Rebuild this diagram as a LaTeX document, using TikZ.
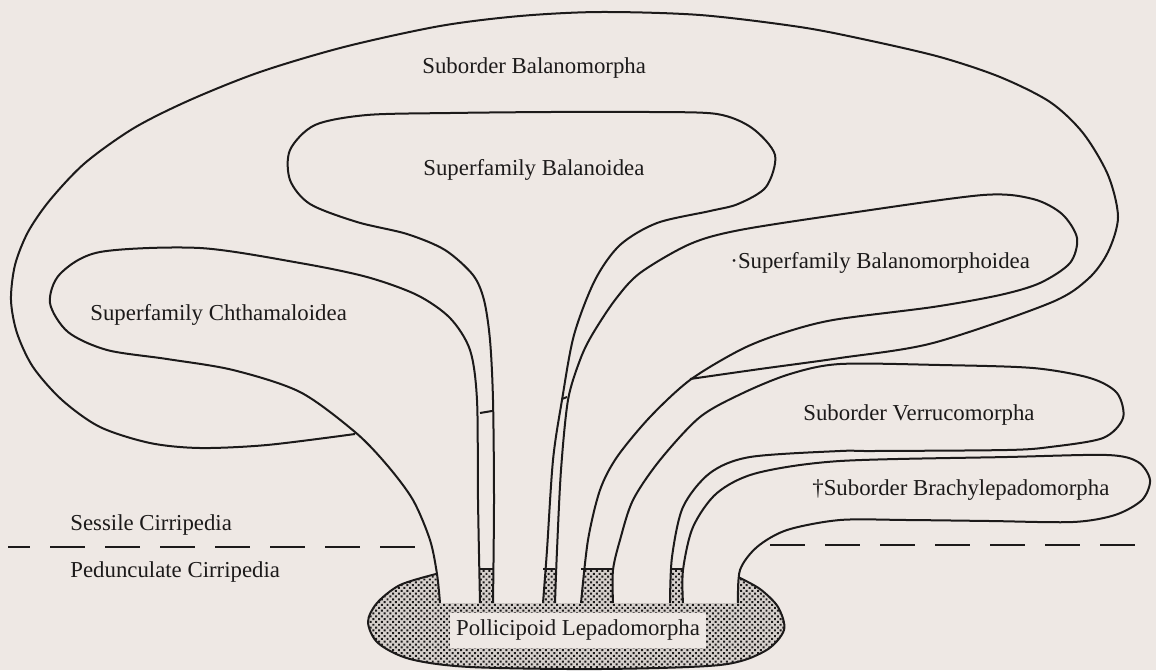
\documentclass[tikz,border=0pt]{standalone}
\usepackage{fontspec}
\setmainfont{Liberation Serif}
\usetikzlibrary{patterns.meta}
\definecolor{paper}{RGB}{238,232,228}
\definecolor{ink}{RGB}{28,26,26}
\definecolor{basegray}{RGB}{214,208,204}
\tikzset{
  wall/.style={line width=1pt, draw=ink, line join=round},
  balloon/.style={wall, fill=paper},
  taxon/.style={anchor=west, inner sep=0pt, text=ink, font=\fontsize{11.4}{13}\selectfont},
  divider/.style={line width=1.3pt, draw=ink, dash pattern=on 17.5pt off 10pt},
}
\begin{document}
\begin{tikzpicture}[x=0.5pt, y=-0.5pt]
			%%%%% START %%%%%
			
			\fill[paper] (0,0) rectangle (1156,670);
			\useasboundingbox (0,0) rectangle (1156,670);
			
			% stippled base
			\path[fill=basegray, postaction={pattern={Dots[radius=0.7pt,distance=2pt,angle=45]}, pattern color=ink}]
				plot[smooth] coordinates {(436,574) (400,585) (377,603) (368,622) (378,643) (410,659) (470,667) (600,669) (720,665) (765,651) (784,630) (778,607) (760,589) (738,577)}
				-- (738,569) -- (436,569) -- cycle;
			\draw[wall] plot[smooth] coordinates {(436,574) (400,585) (377,603) (368,622) (378,643) (410,659) (470,667) (600,669) (720,665) (765,651) (784,630) (778,607) (760,589) (738,577)};
			
			% Chthamaloidea
			\draw[balloon] plot[smooth] coordinates {(440,603) (437,574) (430,540) (413,500) (387,465) (355,432) (300,392) (233,370) (167,359) (107,350) (68,332) (50,303) (60,274) (100,252) (200,248) (300,263) (367,277) (417,295) (450,318) (470,350) (477,400) (478,500) (480,603)};
			
			% Balanoidea
			\draw[balloon] plot[smooth] coordinates {(493,603) (494,500) (493,400) (490,340) (484,300) (473,275) (445,250) (407,234) (357,222) (310,204) (290,180) (290,150) (315,125) (367,115) (450,113) (550,112) (650,112) (717,114) (752,128) (775,155) (766,187) (738,204) (710,211) (657,223) (620,245) (595,280) (574,335) (562,400) (553,460) (547,550) (543,603)};
			
			% Balanomorphoidea
			\draw[balloon] plot[smooth] coordinates {(555,603) (557,550) (561,470) (568,400) (580,360) (592,335) (615,300) (640,273) (690,244) (740,230) (850,213) (983,195) (1033,199) (1062,214) (1077,238) (1070,263) (1040,283) (1000,295) (933,307) (833,320) (780,334) (740,350) (690,380) (650,417) (617,457) (600,490) (588,540) (581,603)};
			
			% Verrucomorpha
			\draw[balloon] plot[smooth] coordinates {(613,603) (613,570) (620,540) (633,500) (660,460) (700,417) (743,393) (790,374) (840,364) (940,365) (1033,368) (1090,378) (1117,393) (1123,418) (1103,438) (1050,447) (1007,450) (873,451) (840,451) (750,457) (710,473) (683,507) (672,557) (670,603)};
			
			% Brachylepadomorpha
			\draw[balloon] plot[smooth] coordinates {(683,603) (683,570) (693,527) (717,493) (757,473) (840,461) (1007,457) (1107,455) (1138,462) (1150,480) (1142,500) (1115,515) (1073,522) (990,521) (907,520) (840,520) (787,530) (757,547) (740,570) (738,603)};
			
			% Balanomorpha
			\draw[wall] plot[smooth] coordinates {(355,434) (267,445) (200,448) (150,443) (100,427) (62,400) (33,367) (17,333) (11,300) (15,265) (28,232) (50,200) (85,163) (134,128) (190,100) (260,72) (344,47) (440,26) (520,16) (600,12) (700,15) (800,27) (867,40) (940,57) (1000,77) (1050,102) (1083,133) (1108,175) (1118,217) (1108,252) (1088,279) (1050,303) (933,343) (840,358) (760,369) (690,379)};
			
			% caps and ticks
			\draw[wall] (480,569) -- (493,569);
			\draw[wall] (543,569) -- (555,569);
			\draw[wall] (581,569) -- (613,569);
			\draw[wall] (670,569) -- (683,569);
			\draw[wall] (480,413) -- (492,411);
			\draw[wall] (562,399) -- (567,397);
			
			\draw[divider, dash phase=6.5pt] (8,547) -- (417,547);
			\draw[divider] (770,545) -- (1138,545);
			
			\node[taxon] (balanomorpha) at (422,68) {Suborder Balanomorpha};
			\node[taxon] (balanoidea) at (423,170) {Superfamily Balanoidea};
			\node[taxon] (chthamaloidea) at (90,315) {Superfamily Chthamaloidea};
			\node[taxon] (balanomorphoidea) at (730,263) {·Superfamily Balanomorphoidea};
			\node[taxon] (verrucomorpha) at (803,415) {Suborder Verrucomorpha};
			\node[taxon] (brachylepadomorpha) at (812,490) {†Suborder Brachylepadomorpha};
			\node[taxon] (sessile) at (70,525) {Sessile Cirripedia};
			\node[taxon] (pedunculate) at (70,572) {Pedunculate Cirripedia};
			\node[taxon, anchor=center, fill=paper, inner xsep=3pt, minimum height=17.5pt] (pollicipoid) at (578,630) {Pollicipoid Lepadomorpha};
			
			%%%%% END %%%%%
\end{tikzpicture}
\end{document}
